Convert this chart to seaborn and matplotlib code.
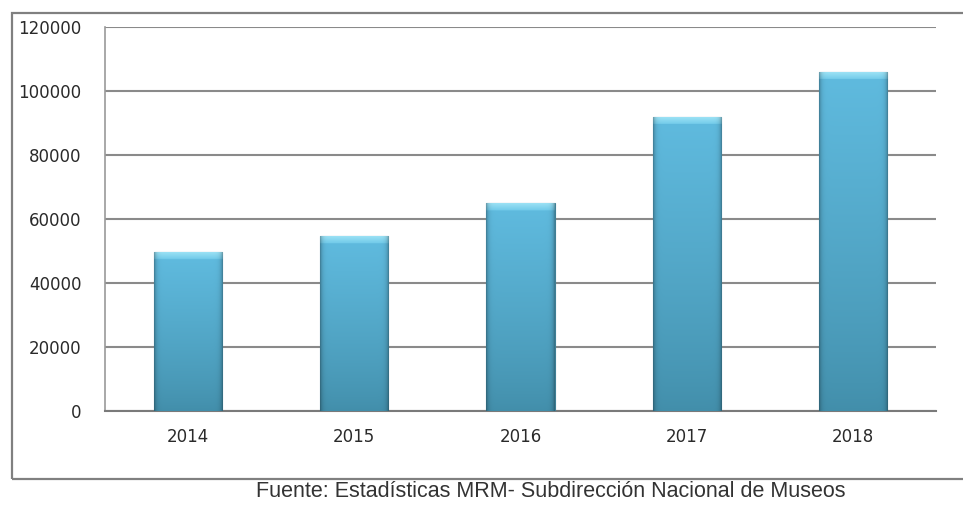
import numpy as np
import pandas as pd
import matplotlib
matplotlib.use("Agg")
import matplotlib.pyplot as plt
import matplotlib.colors as mcolors
from matplotlib.patches import Rectangle
import seaborn as sns

# datos
anios = ["2014", "2015", "2016", "2017", "2018"]
visitantes = [49700, 54700, 65000, 91900, 106000]
y_ticks = [0, 20000, 40000, 60000, 80000, 100000, 120000]
fuente = "Fuente: Estadísticas MRM- Subdirección Nacional de Museos"

df = pd.DataFrame({"anio": anios, "visitantes": visitantes})

sns.set_style("white")
plt.rcParams["font.family"] = ["DejaVu Sans"]

fig = plt.figure(figsize=(9.63, 5.08), dpi=100)
ax = fig.add_axes([0.109, 0.191, 0.863, 0.756])

sns.barplot(data=df, x="anio", y="visitantes", color="#5ab4d6", width=0.41, ax=ax, zorder=3)

# degradado de las barras
c_bot = np.array(mcolors.to_rgb("#428eaa"))
c_top = np.array(mcolors.to_rgb("#5fbade"))
c_cap_top = np.array(mcolors.to_rgb("#a0e4f6"))
c_cap_bot = np.array(mcolors.to_rgb("#72cbea"))
cap = 2400
for p in ax.patches:
    x0, y0, w, h = p.get_x(), p.get_y(), p.get_width(), p.get_height()
    n = 300
    ys = np.linspace(0, h, n)
    col = np.zeros((n, 3))
    for i, yv in enumerate(ys):
        if yv > h - cap:
            t = (yv - (h - cap)) / cap
            col[i] = c_cap_bot + (c_cap_top - c_cap_bot) * t
        else:
            t = yv / (h - cap)
            col[i] = c_bot + (c_top - c_bot) * t ** 0.8
    u = np.linspace(-1, 1, 80)
    shade = 1 - 0.3 * np.abs(u) ** 16
    img = col[:, None, :] * shade[None, :, None]
    im = ax.imshow(np.clip(img, 0, 1), extent=[x0, x0 + w, y0, y0 + h], origin="lower",
                   aspect="auto", zorder=3, interpolation="bilinear")
    im.set_clip_path(p)
    p.set_facecolor("none")
    p.set_edgecolor("#3f7f95")
    p.set_linewidth(0.8)

ax.set_xlim(-0.5, 4.5)
ax.set_ylim(0, 120000)
ax.set_yticks(y_ticks)
ax.set_yticklabels([str(v) for v in y_ticks])
ax.yaxis.grid(True, color="#8a8a8a", linewidth=1.5, zorder=0)
ax.set_axisbelow(True)
ax.set_xlabel("")
ax.set_ylabel("")

for s in ["top", "right"]:
    ax.spines[s].set_visible(False)
ax.spines["left"].set_color("#9a9a9a")
ax.spines["left"].set_linewidth(1.2)
ax.spines["bottom"].set_color("#7a7a7a")
ax.spines["bottom"].set_linewidth(1.5)

ax.set_xticks(np.arange(-0.5, 5, 1), minor=True)
ax.tick_params(axis="x", which="major", length=0, pad=12, labelsize=12, labelcolor="#2a2a2a")
ax.tick_params(axis="x", which="minor", length=5, width=1.2, color="#7a7a7a")
ax.tick_params(axis="y", length=5, width=1.2, color="#8a8a8a", pad=12, labelsize=12, labelcolor="#2a2a2a")

# marco exterior
fig.patches.append(Rectangle((0.0125, 0.057), 1.2, 0.917, transform=fig.transFigure,
                             fill=False, edgecolor="#808080", linewidth=1.6))

fig.text(0.572, 0.022, fuente, ha="center", va="baseline", fontsize=15.5,
         family=["Liberation Sans", "DejaVu Sans"], color="#333333")

fig.savefig("out.png", dpi=100)
